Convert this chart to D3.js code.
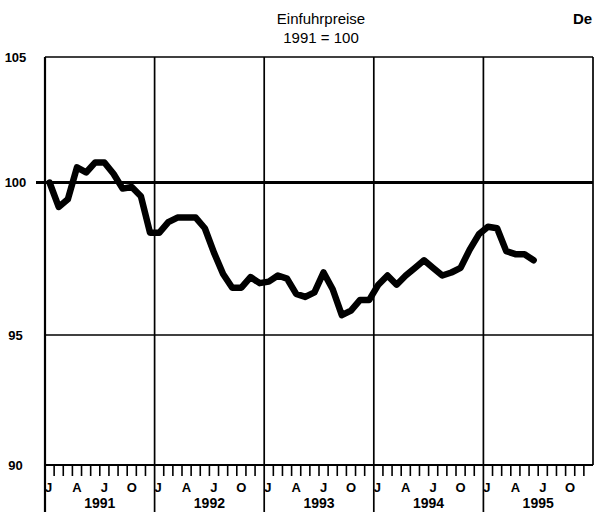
<!DOCTYPE html>
<html><head><meta charset="utf-8">
<script src="https://cdn.jsdelivr.net/npm/d3@7"></script>
<style>
html,body{margin:0;padding:0;background:#fff;}
svg{display:block;font-family:"Liberation Sans",Arial,Helvetica,sans-serif;}
</style></head>
<body><svg id="c" width="597" height="512"></svg>
<script>
// ---- data ----
const years = [1991, 1992, 1993, 1994, 1995];
const monthLabels = ["J", "A", "J", "O"];
const monthLabelIdx = [0, 3, 6, 9];
const yTicks = [90, 95, 100, 105];
const v1991 = [100.0, 99.2, 99.45, 100.6, 100.4, 100.8, 100.8, 100.35, 99.8, 99.85, 99.55, 98.35];
const v1992 = [98.35, 98.7, 98.85, 98.85, 98.85, 98.5, 97.7, 97.0, 96.55, 96.55, 96.9, 96.7];
const v1993 = [96.75, 96.95, 96.85, 96.35, 96.25, 96.4, 97.05, 96.5, 95.65, 95.8, 96.15, 96.15];
const v1994 = [96.65, 96.95, 96.65, 96.95, 97.2, 97.45, 97.2, 96.95, 97.05, 97.2, 97.8, 98.3];
const v1995 = [98.55, 98.5, 97.75, 97.65, 97.65, 97.45];
const series = [].concat(v1991, v1992, v1993, v1994, v1995);

// ---- layout ----
const L = 45, R = 593, T = 57, B = 465;
const svg = d3.select("#c");
const x = d3.scaleLinear().domain([0, years.length * 12]).range([L, R]);
const y = d3.scaleLinear().domain([90, 95, 100, 105]).range([B, 335, 182.5, T]);

// title
svg.append("text").attr("x", 321).attr("y", 24).attr("text-anchor", "middle")
  .attr("font-size", 15).text("Einfuhrpreise");
svg.append("text").attr("x", 321).attr("y", 43).attr("text-anchor", "middle")
  .attr("font-size", 15).text("1991 = 100");
svg.append("text").attr("x", 573).attr("y", 23.5).attr("font-size", 15)
  .attr("font-weight", "bold").text("De");

// horizontal lines
svg.append("line").attr("x1", L).attr("x2", R).attr("y1", y(105)).attr("y2", y(105))
  .attr("stroke", "#000").attr("stroke-width", 1.5);
svg.append("line").attr("x1", L).attr("x2", R).attr("y1", y(95)).attr("y2", y(95))
  .attr("stroke", "#000").attr("stroke-width", 1.5);
svg.append("line").attr("x1", 36).attr("x2", R).attr("y1", y(100)).attr("y2", y(100))
  .attr("stroke", "#000").attr("stroke-width", 3);

// year gridlines
svg.selectAll(".yr").data(d3.range(years.length + 1)).enter().append("line")
  .attr("x1", d => x(d * 12)).attr("x2", d => x(d * 12))
  .attr("y1", T).attr("y2", d => (d === years.length) ? B : 512)
  .attr("stroke", "#000").attr("stroke-width", d => d === 0 ? 2.2 : 1.7);

// bottom axis line
svg.append("line").attr("x1", L).attr("x2", R).attr("y1", B).attr("y2", B)
  .attr("stroke", "#000").attr("stroke-width", 2.2);

// month ticks
svg.selectAll(".mt").data(d3.range(1, years.length * 12).filter(d => d % 12 !== 0))
  .enter().append("line")
  .attr("x1", d => x(d)).attr("x2", d => x(d)).attr("y1", B).attr("y2", B + 11)
  .attr("stroke", "#000").attr("stroke-width", 1.6);

// month labels and years
years.forEach((yr, i) => {
  monthLabelIdx.forEach((m, j) => {
    svg.append("text").attr("x", x(i * 12 + m + 0.5) + (m === 0 ? -1 : 0)).attr("y", 492)
      .attr("text-anchor", "middle").attr("font-size", 13).attr("font-weight", "bold")
      .text(monthLabels[j]);
  });
  svg.append("text").attr("x", x(i * 12 + 6)).attr("y", 508)
    .attr("text-anchor", "middle").attr("font-size", 14).attr("font-weight", "bold")
    .text(yr);
});

// y labels
svg.selectAll(".yl").data(yTicks).enter().append("text")
  .attr("x", 15.5).attr("y", d => y(d)).attr("dy", "0.36em")
  .attr("text-anchor", "middle").attr("font-size", 13).attr("font-weight", "bold")
  .text(d => d);

// data line
const line = d3.line().x((d, i) => x(i + 0.5)).y(d => y(d));
svg.append("path").datum(series).attr("d", line).attr("fill", "none")
  .attr("stroke", "#000").attr("stroke-width", 6.5)
  .attr("stroke-linejoin", "round").attr("stroke-linecap", "round");
</script></body></html>
